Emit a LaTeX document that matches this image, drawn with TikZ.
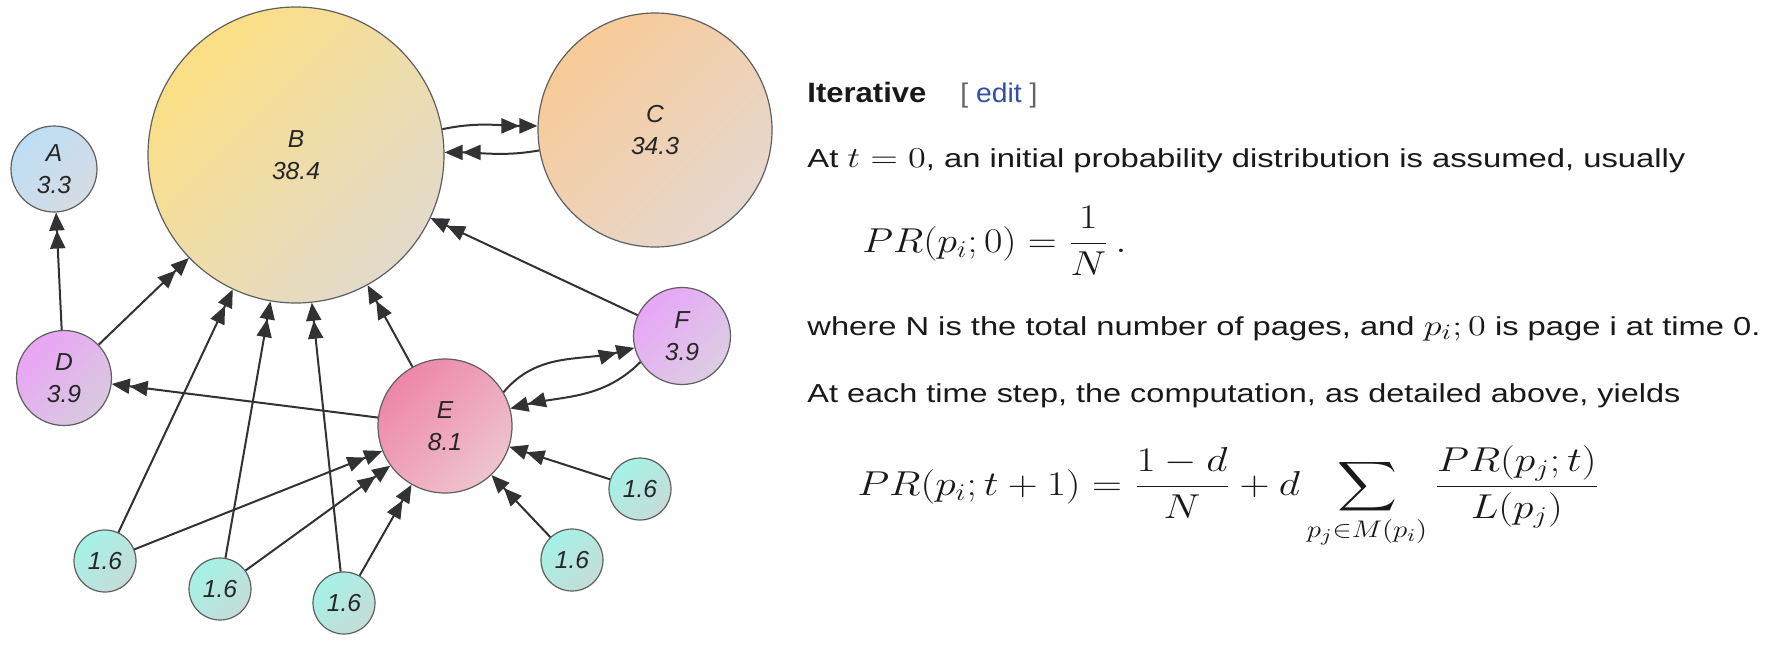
\documentclass[tikz,border=0pt]{standalone}
\usepackage{amsmath}
\usepackage[no-math]{fontspec}
\usepackage{graphicx}
\setmainfont{Liberation Sans}
\usetikzlibrary{arrows.meta}
\definecolor{nodeline}{RGB}{95,95,95}
\definecolor{arrcol}{RGB}{50,50,50}
\definecolor{editblue}{RGB}{48,80,168}
\definecolor{bracketgray}{RGB}{100,100,100}
\definecolor{Aa}{RGB}{190,221,244}\definecolor{Ab}{RGB}{214,220,228}
\definecolor{Ba}{RGB}{252,223,132}\definecolor{Bb}{RGB}{226,218,203}
\definecolor{Ca}{RGB}{248,202,150}\definecolor{Cb}{RGB}{230,216,208}
\definecolor{Da}{RGB}{234,164,246}\definecolor{Db}{RGB}{216,202,223}
\definecolor{Ea}{RGB}{238,134,168}\definecolor{Eb}{RGB}{238,196,206}
\definecolor{Fa}{RGB}{232,166,248}\definecolor{Fb}{RGB}{220,205,226}
\definecolor{Ta}{RGB}{164,242,230}\definecolor{Tb}{RGB}{198,220,216}
\tikzset{
  pg/.style={circle, draw=nodeline, line width=0.6pt, inner sep=0pt, align=center,
    font=\itshape\fontsize{12.3}{16}\selectfont, text=black!85},
  grad/.style 2 args={top color=#1, bottom color=#2, shading angle=45},
  arr/.style={draw=arrcol, line width=1pt,
    -{Triangle[length=9pt,width=7.5pt]Triangle[length=9pt,width=7.5pt]}},
  txt/.style={anchor=base west, inner sep=0pt, font=\fontsize{13}{15}\selectfont, text=black!90},
}
\newcommand{\mth}[1]{{\fontsize{15.5}{18}\selectfont$#1$}}
\newcommand{\dmth}[1]{{\fontsize{18.3}{22}\selectfont$\displaystyle #1$}}
\newcommand{\fitw}[2]{\resizebox{#1}{\height}{#2}}
\begin{document}
\begin{tikzpicture}[x=0.5pt,y=0.5pt]
\useasboundingbox (0,0) rectangle (1770,-648);
\fill[white] (0,0) rectangle (1770,-648);
% nodes
\node[pg, minimum size=148pt, grad={Ba}{Bb}] (B) at (296,-155) {B\\38.4};
\node[pg, minimum size=117pt, grad={Ca}{Cb}] (C) at (655,-130) {C\\34.3};
\node[pg, minimum size=43pt, grad={Aa}{Ab}] (A) at (54,-169) {A\\3.3};
\node[pg, minimum size=47.5pt, grad={Da}{Db}] (D) at (64,-378) {D\\3.9};
\node[pg, minimum size=67pt, grad={Ea}{Eb}] (E) at (445,-426) {E\\8.1};
\node[pg, minimum size=48.5pt, grad={Fa}{Fb}] (F) at (682,-336) {F\\3.9};
\node[pg, minimum size=31pt, grad={Ta}{Tb}] (n1) at (105,-561) {1.6};
\node[pg, minimum size=31pt, grad={Ta}{Tb}] (n2) at (220,-589) {1.6};
\node[pg, minimum size=31pt, grad={Ta}{Tb}] (n3) at (344,-603) {1.6};
\node[pg, minimum size=31pt, grad={Ta}{Tb}] (n4) at (572,-560) {1.6};
\node[pg, minimum size=31pt, grad={Ta}{Tb}] (n5) at (640,-489) {1.6};
% edges
\draw[arr] (D) -- (A);
\draw[arr] (D) -- (B);
\draw[arr] (E) -- (D);
\draw[arr] (E) -- (B);
\draw[arr] (F) -- (B);
\draw[arr] (B.10) to[out=12,in=180] (C.178);
\draw[arr] (C.190) to[out=190,in=0] (B.1);
\draw[arr] (E.30) to[out=50,in=195] (F.194);
\draw[arr] (F.212) to[out=225,in=14] (E.15);
\draw[arr] (n1) -- (B);
\draw[arr] (n1) -- (E);
\draw[arr] (n2) -- (B);
\draw[arr] (n2) -- (E);
\draw[arr] (n3) -- (B);
\draw[arr] (n3) -- (E);
\draw[arr] (n4) -- (E);
\draw[arr] (n5) -- (E);
% text
\node[txt, font=\bfseries\fontsize{14}{16}\selectfont] (title) at (807,-102) {\fitw{59.5pt}{Iterative}};
\node[txt, font=\fontsize{13.5}{16}\selectfont, text=bracketgray] (edit) at (960,-102) {\fitw{38.5pt}{[ \textcolor{editblue}{edit} ]}};
\node[txt] (l1) at (807,-167) {\fitw{439pt}{At \mth{t=0}, an initial probability distribution is assumed, usually}};
\node[txt] (f1) at (862,-252) {\fitw{132pt}{\dmth{PR(p_i;0)=\frac{1}{N}\,.}}};
\node[txt] (l2) at (807,-335) {\fitw{476.5pt}{where N is the total number of pages, and \mth{p_i;0} is page i at time 0.}};
\node[txt] (l3) at (807,-402) {\fitw{436.5pt}{At each time step, the computation, as detailed above, yields}};
\node[txt] (f2) at (857,-495) {\fitw{371pt}{\dmth{PR(p_i;t+1)=\frac{1-d}{N}+d\sum_{p_j\in M(p_i)}\frac{PR(p_j;t)}{L(p_j)}}}};
\end{tikzpicture}
\end{document}
